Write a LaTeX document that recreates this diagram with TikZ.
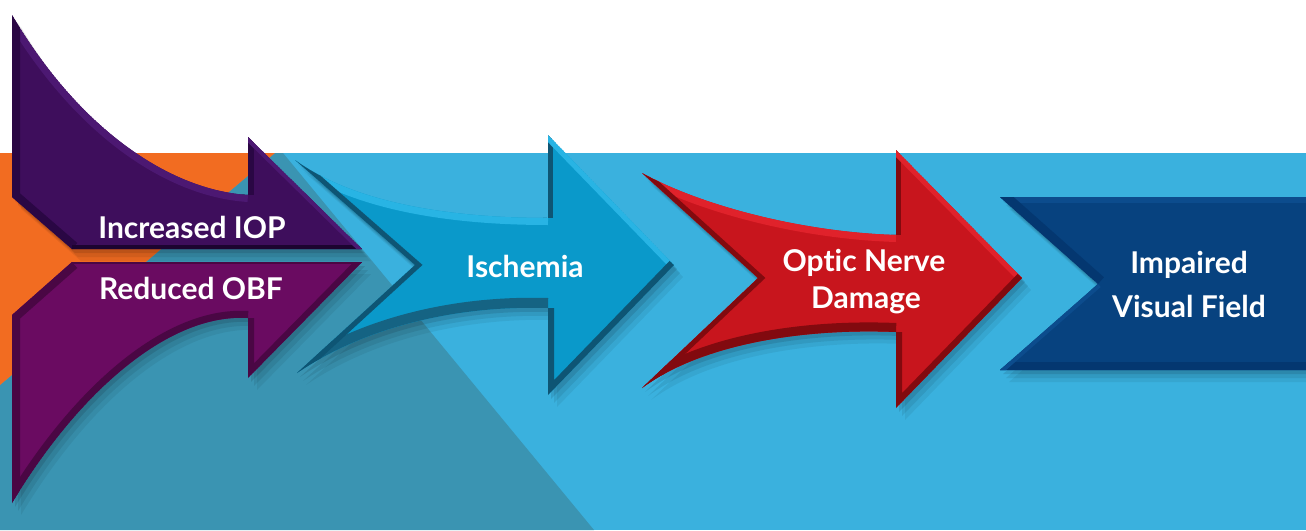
\documentclass[tikz,border=0pt]{standalone}
\usepackage{fontspec}
\setsansfont{Lato}[Ligatures=NoCommon]
\definecolor{skyb}{HTML}{3AB1DE}
\definecolor{tealbg}{HTML}{3A94B2}
\definecolor{orangebg}{HTML}{F26C21}
\definecolor{poneface}{HTML}{3E0E5C}
\definecolor{ponedk}{HTML}{2A0744}
\definecolor{ponedkk}{HTML}{1C0430}
\definecolor{ponehi}{HTML}{4C1872}
\definecolor{ptwoface}{HTML}{6A0B61}
\definecolor{ptwodk}{HTML}{4A0744}
\definecolor{bface}{HTML}{0A99CA}
\definecolor{bhi}{HTML}{28B4E4}
\definecolor{bdk}{HTML}{0E5574}
\definecolor{bdkk}{HTML}{156383}
\definecolor{rface}{HTML}{C8151D}
\definecolor{rhi}{HTML}{E0222B}
\definecolor{rdk}{HTML}{820A0F}
\definecolor{nface}{HTML}{07427F}
\definecolor{nhi}{HTML}{0C4C8D}
\definecolor{ndk}{HTML}{043770}
\begin{document}
\begin{tikzpicture}[x=1pt,y=-1pt,
  lbl/.style={text=white,font=\sffamily\bfseries\fontsize{30}{36}\selectfont,anchor=base,inner sep=0pt},
  shapePone/.style={insert path={(12,15) .. controls (80,130) and (170,190) .. (248,195) -- (248,137) -- (362,249) -- (72,249) -- (12,197) -- cycle}},
  shapePtwo/.style={insert path={(362,262) -- (72,262) -- (12,315) -- (12,503) .. controls (80,390) and (170,313) .. (248,318) -- (248,378) -- cycle}},
  shapeB/.style={insert path={(295,160) .. controls (350,200) and (440,218) .. (548,218) -- (548,135) -- (674,265) -- (548,395) -- (548,308) .. controls (450,305) and (360,330) .. (297,373) -- (415,265) -- cycle}},
  shapeR/.style={insert path={(642,173) .. controls (700,205) and (800,232) .. (896,235) -- (896,150) -- (1022,278) -- (896,408) -- (896,332) .. controls (800,328) and (700,345) .. (642,388) -- (758,278) -- cycle}},
  shapeN/.style={insert path={(1000,197) -- (1320,197) -- (1320,370) -- (1000,370) -- (1098,284) -- cycle}},
  shadowA/.style={black,opacity=.10,shift={(3,4)}},
  shadowB/.style={black,opacity=.08,shift={(6,8)}},
  shadowC/.style={black,opacity=.06,shift={(9,12)}}
]
\useasboundingbox (0,0) rectangle (1306,530);
% background
\fill[white] (0,0) rectangle (1306,153);
\fill[skyb] (0,153) rectangle (1306,530);
\fill[tealbg] (275,153) -- (283,153) -- (594,530) -- (0,530) -- (0,385) -- cycle;
\fill[orangebg] (0,153) -- (275,153) -- (0,385) -- cycle;
% shadows
\foreach \s in {shadowA,shadowB,shadowC}{
  \fill[\s,shapeN];
  \fill[\s,shapeR];
  \fill[\s,shapeB];
  \fill[\s,shapePtwo];
  \fill[\s,shapePone];
}
% navy box
\begin{scope}
\clip[shapeN];
\fill[nface,shapeN];
\draw[nhi,line width=12pt] (1000,197) -- (1320,197);
\draw[ndk,line width=16pt] (1000,370) -- (1320,370);
\draw[ndk,line width=18pt] (1000,197) -- (1098,284);
\draw[nhi,line width=8pt] (1098,284) -- (1000,370);
\end{scope}
% red arrow
\begin{scope}
\clip[shapeR];
\fill[rface,shapeR];
\draw[rhi,line width=14pt] (642,173) .. controls (700,205) and (800,232) .. (896,235);
\draw[rdk,line width=10pt] (896,235) -- (896,150);
\draw[rhi,line width=10pt] (896,150) -- (1022,278);
\draw[rdk,line width=12pt] (1022,278) -- (896,408) -- (896,332);
\draw[rdk,line width=18pt] (896,332) .. controls (800,328) and (700,345) .. (642,388);
\draw[rdk,line width=10pt] (642,388) -- (758,278) -- (642,173);
\end{scope}
% ischemia arrow
\begin{scope}
\clip[shapeB];
\fill[bface,shapeB];
\draw[bhi,line width=14pt] (295,160) .. controls (350,200) and (440,218) .. (548,218);
\draw[bdk,line width=10pt] (548,218) -- (548,135);
\draw[bhi,line width=10pt] (548,135) -- (674,265);
\draw[bdk,line width=12pt] (674,265) -- (548,395) -- (548,308);
\draw[bdkk,line width=20pt] (548,308) .. controls (450,305) and (360,330) .. (297,373);
\draw[bdk,line width=10pt] (297,373) -- (415,265) -- (295,160);
\end{scope}
% lower purple arrow
\begin{scope}
\clip[shapePtwo];
\fill[ptwoface,shapePtwo];
\draw[ptwodk,line width=4pt] (362,262) -- (72,262);
\draw[ptwodk,line width=16pt] (72,262) -- (12,315) -- (12,503);
\draw[ptwodk,line width=14pt] (12,503) .. controls (80,390) and (170,313) .. (248,318);
\draw[ptwodk,line width=12pt] (248,318) -- (248,378) -- (362,262);
\end{scope}
% upper purple arrow
\begin{scope}
\clip[shapePone];
\fill[poneface,shapePone];
\draw[ponehi,line width=14pt] (12,15) .. controls (80,130) and (170,190) .. (248,195);
\draw[ponedk,line width=16pt] (12,15) -- (12,197) -- (72,249);
\draw[ponedkk,line width=8pt] (72,249) -- (362,249);
\draw[ponedk,line width=12pt] (248,195) -- (248,137);
\draw[ponehi,line width=8pt] (248,137) -- (362,249);
\end{scope}
% labels
\node[lbl] (iop) at (192,238) {Increased IOP};
\node[lbl] (obf) at (191,299) {Reduced OBF};
\node[lbl] (isch) at (525,277) {Ischemia};
\node[lbl] (optic) at (864,271) {Optic Nerve};
\node[lbl] (damage) at (866,308) {Damage};
\node[lbl] (impaired) at (1189,273) {Impaired};
\node[lbl] (visual) at (1189,317) {Visual Field};
\end{tikzpicture}
\end{document}
